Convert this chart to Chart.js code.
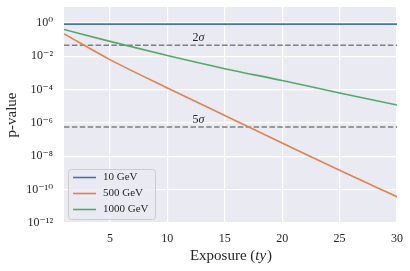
<!DOCTYPE html>
<html>
<head>
<meta charset="utf-8">
<script src="https://cdn.jsdelivr.net/npm/chart.js@4.4.1/dist/chart.umd.min.js"></script>
<style>
  html, body { margin: 0; padding: 0; background: #fff; }
</style>
</head>
<body>
<canvas id="chart" width="410" height="271"></canvas>
<script>
// exposure in ty, p-values
const exposure = [1, 5, 10, 15, 20, 25, 30];
const pval10 = [0.85, 0.85, 0.85, 0.85, 0.85, 0.85, 0.85];
const pval500 = [0.22, 6.3e-3, 1.26e-4, 2.8e-6, 6.3e-8, 1.45e-9, 3.8e-11];
const pval1000 = [0.4, 0.078, 0.011, 1.8e-3, 3.5e-4, 6.3e-5, 1.2e-5];
const seriesLabels = ["10 GeV", "500 GeV", "1000 GeV"];
const colors = ["#4C72B0", "#DD8452", "#55A868"];

// 2 sigma and 5 sigma thresholds
const sigmaLevels = [0.0455, 5.7e-7];
const sigmaNames = ["2", "5"];

const xTicks = [5, 10, 15, 20, 25, 30];
const yTicks = [1e-12, 1e-10, 1e-8, 1e-6, 1e-4, 1e-2, 1];

const SERIF = "'Liberation Serif', 'DejaVu Serif', serif";
const TXT = "#262626";

const sup = { "0": "\u2070", "1": "\u00B9", "2": "\u00B2", "3": "\u00B3", "4": "\u2074",
  "5": "\u2075", "6": "\u2076", "7": "\u2077", "8": "\u2078", "9": "\u2079", "-": "\u207B" };
function powLabel(v) {
  let e = String(Math.round(Math.log10(v)));
  return "10" + e.split("").map((c) => sup[c]).join("");
}

function pts(ys) {
  return exposure.map((x, i) => ({ x: x, y: ys[i] }));
}

let datasets = [pval10, pval500, pval1000].map((ys, i) => ({
  label: seriesLabels[i],
  data: pts(ys),
  borderColor: colors[i],
  backgroundColor: colors[i],
  borderWidth: 1.6,
  pointRadius: 0,
  cubicInterpolationMode: "monotone",
  fill: false,
}));

sigmaLevels.forEach((s) => {
  datasets.push({
    label: "",
    isSigma: true,
    data: [{ x: exposure[0], y: s }, { x: exposure[exposure.length - 1], y: s }],
    borderColor: "#7f7f7f",
    borderWidth: 1.6,
    borderDash: [5.5, 2.4],
    pointRadius: 0,
    fill: false,
  });
});

const bgPlugin = {
  id: "bg",
  beforeDraw(chart) {
    const { ctx, chartArea: a } = chart;
    ctx.save();
    ctx.fillStyle = "#EAEAF2";
    ctx.fillRect(a.left, a.top, a.right - a.left, a.bottom - a.top);
    ctx.restore();
  },
};

const annPlugin = {
  id: "ann",
  afterDatasetsDraw(chart) {
    const { ctx, chartArea: a, scales } = chart;
    ctx.save();
    // sigma labels
    sigmaLevels.forEach((s, i) => {
      let cx = scales.x.getPixelForValue(12.7);
      let y = scales.y.getPixelForValue(s) - 4;
      ctx.textBaseline = "alphabetic";
      ctx.fillStyle = TXT;
      ctx.font = "12px " + SERIF;
      let w1 = ctx.measureText(sigmaNames[i]).width;
      ctx.font = "italic 12px " + SERIF;
      let w2 = ctx.measureText("\u03C3").width;
      let x0 = cx - (w1 + w2) / 2;
      ctx.font = "12px " + SERIF;
      ctx.fillText(sigmaNames[i], x0, y);
      ctx.font = "italic 12px " + SERIF;
      ctx.fillText("\u03C3", x0 + w1, y);
    });

    // legend
    let lx = a.left + 4, lb = a.bottom - 4, lw = 87, lh = 50;
    let ly = lb - lh;
    ctx.fillStyle = "rgba(234,234,242,0.8)";
    ctx.strokeStyle = "#cccccc";
    ctx.lineWidth = 1;
    ctx.beginPath();
    ctx.roundRect(lx + 0.5, ly + 0.5, lw, lh, 3);
    ctx.fill();
    ctx.stroke();
    chart.data.datasets.filter((d) => !d.isSigma).forEach((d, i) => {
      let ry = ly + 8.5 + i * 16;
      ctx.strokeStyle = d.borderColor;
      ctx.lineWidth = 1.6;
      ctx.beginPath();
      ctx.moveTo(lx + 5, ry);
      ctx.lineTo(lx + 28, ry);
      ctx.stroke();
      ctx.fillStyle = TXT;
      ctx.font = "11px " + SERIF;
      ctx.textBaseline = "middle";
      ctx.fillText(d.label, lx + 35, ry);
    });

    // x axis title with italic units
    let tx = (a.left + a.right) / 2, ty = 256;
    ctx.font = "15px " + SERIF;
    let p1 = "Exposure (", p3 = ")";
    let w1 = ctx.measureText(p1).width, w3 = ctx.measureText(p3).width;
    ctx.font = "italic 15px " + SERIF;
    let w2 = ctx.measureText("ty").width;
    let x0 = tx - (w1 + w2 + w3) / 2;
    ctx.fillStyle = TXT;
    ctx.textBaseline = "middle";
    ctx.font = "15px " + SERIF;
    ctx.fillText(p1, x0, ty);
    ctx.font = "italic 15px " + SERIF;
    ctx.fillText("ty", x0 + w1, ty);
    ctx.font = "15px " + SERIF;
    ctx.fillText(p3, x0 + w1 + w2 + 1, ty);
    ctx.restore();
  },
};

const config = {
  type: "line",
  data: { datasets },
  options: {
    responsive: false,
    animation: false,
    devicePixelRatio: 1,
    layout: { padding: { top: 7, right: 13, left: 0, bottom: 0 } },
    plugins: { legend: { display: false }, tooltip: { enabled: false } },
    scales: {
      x: {
        type: "linear",
        min: 1,
        max: 30,
        afterBuildTicks: (s) => { s.ticks = xTicks.map((v) => ({ value: v })); },
        afterFit: (s) => { s.height = 48; s.paddingLeft = 0; s.paddingRight = 0; },
        grid: { color: "#ffffff", lineWidth: 1.2, drawTicks: false },
        border: { display: false },
        ticks: { color: TXT, padding: 9, font: { family: SERIF, size: 12 }, maxRotation: 0 },
      },
      y: {
        type: "logarithmic",
        min: 1e-12,
        max: 9,
        afterBuildTicks: (s) => { s.ticks = yTicks.map((v) => ({ value: v })); },
        afterFit: (s) => { s.width = 64; s.paddingTop = 0; s.paddingBottom = 0; },
        grid: { color: "#ffffff", lineWidth: 1.2, drawTicks: false },
        border: { display: false },
        ticks: {
          color: TXT,
          padding: 11,
          font: { family: SERIF, size: 12 },
          callback: (v) => powLabel(v),
        },
        title: {
          display: true,
          text: "p-value",
          color: TXT,
          font: { family: SERIF, size: 15 },
          padding: { top: 3, bottom: 0 },
        },
      },
    },
  },
  plugins: [bgPlugin, annPlugin],
};

let chart = new Chart(document.querySelector("#chart"), config);
</script>
</body>
</html>
